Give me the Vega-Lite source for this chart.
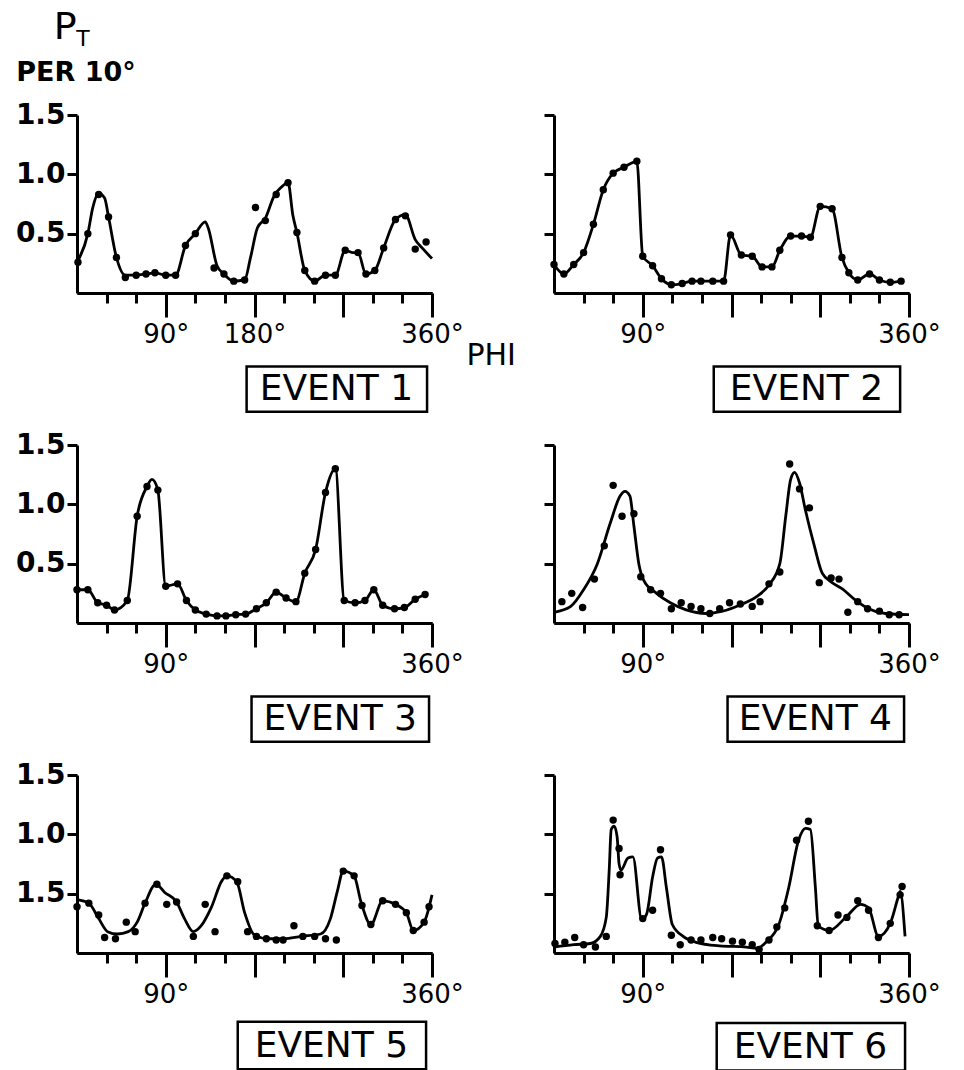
{
  "$schema": "https://vega.github.io/schema/vega-lite/v6.json",
  "background": "white",
  "padding": {"left": 15, "top": 9, "right": 5, "bottom": 5},
  "config": {
    "view": {"stroke": null},
    "font": "DejaVu Sans",
    "axis": {"domainColor": "black", "tickColor": "black", "labelColor": "black", "grid": false, "domainWidth": 3, "tickWidth": 3}
  },
  "datasets": {
    "e1": [{"phi":1,"pt":0.26},{"phi":11,"pt":0.50},{"phi":22,"pt":0.83},{"phi":32,"pt":0.64},{"phi":40,"pt":0.30},{"phi":49,"pt":0.13},{"phi":60,"pt":0.15},{"phi":70,"pt":0.16},{"phi":79,"pt":0.17},{"phi":90,"pt":0.15},{"phi":100,"pt":0.15},{"phi":110,"pt":0.40},{"phi":120,"pt":0.50},{"phi":139,"pt":0.21},{"phi":149,"pt":0.16},{"phi":159,"pt":0.10},{"phi":170,"pt":0.11},{"phi":181,"pt":0.72},{"phi":191,"pt":0.61},{"phi":202,"pt":0.83},{"phi":214,"pt":0.93},{"phi":223,"pt":0.51},{"phi":231,"pt":0.19},{"phi":241,"pt":0.10},{"phi":252,"pt":0.15},{"phi":262,"pt":0.15},{"phi":272,"pt":0.36},{"phi":285,"pt":0.34},{"phi":293,"pt":0.16},{"phi":302,"pt":0.19},{"phi":311,"pt":0.38},{"phi":323,"pt":0.62},{"phi":333,"pt":0.65},{"phi":343,"pt":0.37},{"phi":354,"pt":0.43}],
    "c1": [{"phi":0,"pt":0.26},{"phi":11,"pt":0.50},{"phi":16,"pt":0.72},{"phi":22,"pt":0.84},{"phi":28,"pt":0.80},{"phi":32,"pt":0.64},{"phi":40,"pt":0.30},{"phi":49,"pt":0.15},{"phi":60,"pt":0.15},{"phi":70,"pt":0.16},{"phi":79,"pt":0.17},{"phi":90,"pt":0.15},{"phi":100,"pt":0.15},{"phi":110,"pt":0.40},{"phi":120,"pt":0.50},{"phi":130,"pt":0.60},{"phi":133,"pt":0.55},{"phi":142,"pt":0.23},{"phi":149,"pt":0.16},{"phi":159,"pt":0.10},{"phi":170,"pt":0.11},{"phi":176,"pt":0.30},{"phi":183,"pt":0.55},{"phi":191,"pt":0.63},{"phi":200,"pt":0.82},{"phi":207,"pt":0.89},{"phi":214,"pt":0.93},{"phi":219,"pt":0.65},{"phi":223,"pt":0.51},{"phi":231,"pt":0.19},{"phi":241,"pt":0.10},{"phi":252,"pt":0.15},{"phi":262,"pt":0.15},{"phi":272,"pt":0.36},{"phi":280,"pt":0.34},{"phi":285,"pt":0.34},{"phi":293,"pt":0.16},{"phi":302,"pt":0.19},{"phi":311,"pt":0.38},{"phi":323,"pt":0.62},{"phi":333,"pt":0.66},{"phi":343,"pt":0.45},{"phi":350,"pt":0.38},{"phi":360,"pt":0.29}],
    "e2": [{"phi":0,"pt":0.24},{"phi":10,"pt":0.16},{"phi":20,"pt":0.24},{"phi":30,"pt":0.34},{"phi":40,"pt":0.58},{"phi":50,"pt":0.87},{"phi":60,"pt":1.01},{"phi":71,"pt":1.06},{"phi":84,"pt":1.11},{"phi":90,"pt":0.31},{"phi":100,"pt":0.23},{"phi":109,"pt":0.12},{"phi":119,"pt":0.07},{"phi":130,"pt":0.08},{"phi":140,"pt":0.10},{"phi":149,"pt":0.10},{"phi":161,"pt":0.10},{"phi":172,"pt":0.10},{"phi":179,"pt":0.49},{"phi":190,"pt":0.32},{"phi":201,"pt":0.31},{"phi":211,"pt":0.22},{"phi":221,"pt":0.22},{"phi":229,"pt":0.36},{"phi":240,"pt":0.48},{"phi":251,"pt":0.48},{"phi":260,"pt":0.47},{"phi":270,"pt":0.73},{"phi":282,"pt":0.71},{"phi":292,"pt":0.30},{"phi":299,"pt":0.17},{"phi":308,"pt":0.11},{"phi":320,"pt":0.16},{"phi":330,"pt":0.11},{"phi":341,"pt":0.09},{"phi":352,"pt":0.10}],
    "e3": [{"phi":0,"pt":0.28},{"phi":11,"pt":0.28},{"phi":21,"pt":0.17},{"phi":30,"pt":0.15},{"phi":38,"pt":0.11},{"phi":51,"pt":0.19},{"phi":61,"pt":0.90},{"phi":71,"pt":1.15},{"phi":82,"pt":1.12},{"phi":90,"pt":0.31},{"phi":102,"pt":0.33},{"phi":111,"pt":0.19},{"phi":120,"pt":0.11},{"phi":131,"pt":0.075},{"phi":142,"pt":0.06},{"phi":151,"pt":0.06},{"phi":161,"pt":0.07},{"phi":171,"pt":0.075},{"phi":182,"pt":0.12},{"phi":192,"pt":0.17},{"phi":202,"pt":0.26},{"phi":212,"pt":0.21},{"phi":222,"pt":0.18},{"phi":231,"pt":0.42},{"phi":242,"pt":0.62},{"phi":252,"pt":1.10},{"phi":262,"pt":1.30},{"phi":271,"pt":0.19},{"phi":282,"pt":0.17},{"phi":292,"pt":0.19},{"phi":301,"pt":0.28},{"phi":310,"pt":0.15},{"phi":322,"pt":0.12},{"phi":332,"pt":0.13},{"phi":343,"pt":0.20},{"phi":353,"pt":0.24}],
    "c3": [{"phi":0,"pt":0.28},{"phi":11,"pt":0.28},{"phi":21,"pt":0.17},{"phi":30,"pt":0.15},{"phi":38,"pt":0.11},{"phi":51,"pt":0.19},{"phi":61,"pt":0.90},{"phi":71,"pt":1.15},{"phi":76,"pt":1.21},{"phi":82,"pt":1.12},{"phi":90,"pt":0.31},{"phi":102,"pt":0.33},{"phi":111,"pt":0.19},{"phi":120,"pt":0.11},{"phi":131,"pt":0.075},{"phi":142,"pt":0.06},{"phi":151,"pt":0.06},{"phi":161,"pt":0.07},{"phi":171,"pt":0.075},{"phi":182,"pt":0.12},{"phi":192,"pt":0.17},{"phi":202,"pt":0.26},{"phi":212,"pt":0.21},{"phi":222,"pt":0.18},{"phi":231,"pt":0.42},{"phi":242,"pt":0.62},{"phi":252,"pt":1.10},{"phi":262,"pt":1.30},{"phi":271,"pt":0.19},{"phi":282,"pt":0.17},{"phi":292,"pt":0.19},{"phi":301,"pt":0.28},{"phi":310,"pt":0.15},{"phi":322,"pt":0.12},{"phi":332,"pt":0.13},{"phi":343,"pt":0.20},{"phi":353,"pt":0.24}],
    "e4": [{"phi":8,"pt":0.18},{"phi":18,"pt":0.25},{"phi":29,"pt":0.13},{"phi":41,"pt":0.37},{"phi":51,"pt":0.65},{"phi":60,"pt":1.16},{"phi":69,"pt":0.90},{"phi":81,"pt":0.92},{"phi":88,"pt":0.39},{"phi":98,"pt":0.28},{"phi":108,"pt":0.25},{"phi":119,"pt":0.12},{"phi":129,"pt":0.17},{"phi":139,"pt":0.14},{"phi":149,"pt":0.12},{"phi":158,"pt":0.08},{"phi":168,"pt":0.12},{"phi":178,"pt":0.17},{"phi":189,"pt":0.16},{"phi":201,"pt":0.14},{"phi":209,"pt":0.18},{"phi":218,"pt":0.33},{"phi":229,"pt":0.43},{"phi":239,"pt":1.34},{"phi":249,"pt":1.13},{"phi":259,"pt":0.97},{"phi":269,"pt":0.34},{"phi":281,"pt":0.38},{"phi":289,"pt":0.37},{"phi":298,"pt":0.09},{"phi":308,"pt":0.18},{"phi":318,"pt":0.12},{"phi":330,"pt":0.10},{"phi":340,"pt":0.07},{"phi":350,"pt":0.07}],
    "c4": [{"phi":0,"pt":0.09},{"phi":17,"pt":0.14},{"phi":30,"pt":0.28},{"phi":44,"pt":0.50},{"phi":57,"pt":0.84},{"phi":67,"pt":1.07},{"phi":72,"pt":1.11},{"phi":77,"pt":1.07},{"phi":81,"pt":0.82},{"phi":86,"pt":0.50},{"phi":91,"pt":0.36},{"phi":104,"pt":0.25},{"phi":118,"pt":0.17},{"phi":134,"pt":0.11},{"phi":154,"pt":0.08},{"phi":171,"pt":0.10},{"phi":188,"pt":0.15},{"phi":205,"pt":0.22},{"phi":218,"pt":0.32},{"phi":229,"pt":0.50},{"phi":235,"pt":0.90},{"phi":240,"pt":1.21},{"phi":244,"pt":1.27},{"phi":249,"pt":1.18},{"phi":255,"pt":0.95},{"phi":264,"pt":0.65},{"phi":272,"pt":0.42},{"phi":282,"pt":0.34},{"phi":292,"pt":0.29},{"phi":306,"pt":0.19},{"phi":319,"pt":0.12},{"phi":336,"pt":0.08},{"phi":360,"pt":0.07}],
    "e5": [{"phi":0,"pt":0.39},{"phi":12,"pt":0.42},{"phi":22,"pt":0.32},{"phi":28,"pt":0.13},{"phi":39,"pt":0.12},{"phi":50,"pt":0.26},{"phi":59,"pt":0.18},{"phi":69,"pt":0.42},{"phi":81,"pt":0.58},{"phi":91,"pt":0.41},{"phi":101,"pt":0.43},{"phi":118,"pt":0.14},{"phi":130,"pt":0.41},{"phi":140,"pt":0.18},{"phi":152,"pt":0.65},{"phi":163,"pt":0.60},{"phi":173,"pt":0.18},{"phi":182,"pt":0.14},{"phi":192,"pt":0.12},{"phi":202,"pt":0.11},{"phi":209,"pt":0.11},{"phi":220,"pt":0.23},{"phi":229,"pt":0.14},{"phi":241,"pt":0.14},{"phi":252,"pt":0.12},{"phi":263,"pt":0.11},{"phi":270,"pt":0.69},{"phi":281,"pt":0.65},{"phi":289,"pt":0.40},{"phi":298,"pt":0.24},{"phi":310,"pt":0.44},{"phi":323,"pt":0.41},{"phi":334,"pt":0.34},{"phi":341,"pt":0.19},{"phi":352,"pt":0.26},{"phi":357,"pt":0.39}],
    "c5": [{"phi":0,"pt":0.45},{"phi":12,"pt":0.42},{"phi":22,"pt":0.29},{"phi":31,"pt":0.18},{"phi":41,"pt":0.16},{"phi":52,"pt":0.18},{"phi":61,"pt":0.26},{"phi":69,"pt":0.42},{"phi":80,"pt":0.58},{"phi":89,"pt":0.51},{"phi":101,"pt":0.43},{"phi":109,"pt":0.29},{"phi":118,"pt":0.18},{"phi":126,"pt":0.23},{"phi":136,"pt":0.38},{"phi":147,"pt":0.61},{"phi":152,"pt":0.65},{"phi":162,"pt":0.60},{"phi":170,"pt":0.34},{"phi":180,"pt":0.15},{"phi":194,"pt":0.12},{"phi":210,"pt":0.12},{"phi":227,"pt":0.14},{"phi":247,"pt":0.16},{"phi":257,"pt":0.29},{"phi":264,"pt":0.52},{"phi":270,"pt":0.69},{"phi":281,"pt":0.65},{"phi":288,"pt":0.43},{"phi":298,"pt":0.24},{"phi":310,"pt":0.44},{"phi":323,"pt":0.41},{"phi":334,"pt":0.34},{"phi":341,"pt":0.19},{"phi":352,"pt":0.26},{"phi":360,"pt":0.49}],
    "e6": [{"phi":1,"pt":0.08},{"phi":11,"pt":0.09},{"phi":21,"pt":0.13},{"phi":30,"pt":0.07},{"phi":42,"pt":0.05},{"phi":53,"pt":0.14},{"phi":60,"pt":1.12},{"phi":66,"pt":0.88},{"phi":67,"pt":0.66},{"phi":90,"pt":0.29},{"phi":100,"pt":0.36},{"phi":108,"pt":0.87},{"phi":119,"pt":0.15},{"phi":128,"pt":0.07},{"phi":139,"pt":0.11},{"phi":149,"pt":0.11},{"phi":161,"pt":0.13},{"phi":170,"pt":0.12},{"phi":181,"pt":0.10},{"phi":191,"pt":0.09},{"phi":201,"pt":0.07},{"phi":208,"pt":0.03},{"phi":218,"pt":0.11},{"phi":226,"pt":0.22},{"phi":234,"pt":0.38},{"phi":246,"pt":0.95},{"phi":258,"pt":1.11},{"phi":267,"pt":0.23},{"phi":279,"pt":0.19},{"phi":288,"pt":0.32},{"phi":297,"pt":0.30},{"phi":308,"pt":0.44},{"phi":319,"pt":0.36},{"phi":329,"pt":0.13},{"phi":341,"pt":0.25},{"phi":351,"pt":0.49},{"phi":353,"pt":0.56}],
    "c6": [{"phi":0,"pt":0.05},{"phi":20,"pt":0.07},{"phi":37,"pt":0.08},{"phi":47,"pt":0.14},{"phi":53,"pt":0.30},{"phi":56,"pt":0.70},{"phi":58,"pt":1.04},{"phi":61,"pt":1.07},{"phi":64,"pt":0.98},{"phi":66,"pt":0.75},{"phi":68,"pt":0.70},{"phi":75,"pt":0.80},{"phi":80,"pt":0.81},{"phi":89,"pt":0.28},{"phi":94,"pt":0.33},{"phi":100,"pt":0.64},{"phi":105,"pt":0.80},{"phi":109,"pt":0.81},{"phi":114,"pt":0.55},{"phi":120,"pt":0.24},{"phi":131,"pt":0.14},{"phi":144,"pt":0.09},{"phi":168,"pt":0.06},{"phi":195,"pt":0.05},{"phi":206,"pt":0.04},{"phi":216,"pt":0.10},{"phi":228,"pt":0.24},{"phi":238,"pt":0.55},{"phi":248,"pt":0.95},{"phi":255,"pt":1.05},{"phi":260,"pt":1.04},{"phi":265,"pt":0.56},{"phi":268,"pt":0.23},{"phi":279,"pt":0.19},{"phi":297,"pt":0.31},{"phi":311,"pt":0.41},{"phi":319,"pt":0.38},{"phi":329,"pt":0.14},{"phi":341,"pt":0.25},{"phi":349,"pt":0.47},{"phi":351,"pt":0.52},{"phi":356,"pt":0.14}]
  },
  "columns": 2,
  "bounds": "flush",
  "spacing": {"row": 152, "column": 122},
  "concat": [
    {
      "width": 355, "height": 178,
      "resolve": {"axis": {"x": "independent", "y": "shared"}},
      "layer": [
        {"data": {"name": "c1"}, "mark": {"type": "line", "interpolate": "monotone", "color": "black", "strokeWidth": 2.8},
         "encoding": {
           "x": {"field": "phi", "type": "quantitative", "scale": {"domain": [0, 360], "nice": false},
                 "axis": {"orient": "bottom", "values": [90, 180, 270, 360], "tickSize": 24, "labelFontSize": 26, "labelFont": "DejaVu Sans", "labelPadding": 4, "labelFlush": false, "labelOverlap": false, "labelBound": false, "title": null, "labelExpr": "(datum.value==90||datum.value==180||datum.value==360)?datum.value+'°':''"}},
           "y": {"field": "pt", "type": "quantitative", "scale": {"domain": [0, 1.5], "nice": false},
                 "axis": {"orient": "left", "values": [0.5, 1, 1.5], "tickSize": 10, "labelFontSize": 28, "labelFont": "DejaVu Sans", "labelFontWeight": "bold", "labelPadding": 2, "title": null, "labelExpr": "format(datum.value,'.1f')"}}}},
        {"data": {"name": "e1"}, "mark": {"type": "circle", "color": "black", "size": 55, "opacity": 1},
         "encoding": {
           "x": {"field": "phi", "type": "quantitative", "scale": {"domain": [0, 360], "nice": false},
                 "axis": {"orient": "bottom", "values": [30, 60, 120, 150, 210, 240, 300, 330], "tickSize": 10, "labels": false, "title": null}},
           "y": {"field": "pt", "type": "quantitative", "scale": {"domain": [0, 1.5], "nice": false}}}},
        {"data": {"values": [{"label": "EVENT 1"}]}, "mark": {"type": "rect", "fillOpacity": 0, "stroke": "black", "strokeWidth": 2.5},
         "encoding": {"x": {"datum": 172, "type": "quantitative", "scale": {"domain": [0, 360], "nice": false}, "axis": null}, "x2": {"datum": 355},
                      "y": {"datum": -0.62, "type": "quantitative", "scale": {"domain": [0, 1.5], "nice": false}}, "y2": {"datum": -1.0}}},
        {"data": {"values": [{"label": "EVENT 1"}]}, "mark": {"type": "text", "fontSize": 36, "font": "DejaVu Sans", "color": "black"},
         "encoding": {"x": {"datum": 263, "type": "quantitative", "scale": {"domain": [0, 360], "nice": false}, "axis": null},
                      "y": {"datum": -0.81, "type": "quantitative", "scale": {"domain": [0, 1.5], "nice": false}}, "text": {"field": "label"}}},
        {"data": {"values": [{"label": "PHI"}]}, "mark": {"type": "text", "fontSize": 30, "font": "DejaVu Sans", "color": "black"},
         "encoding": {"x": {"datum": 420, "type": "quantitative", "scale": {"domain": [0, 360], "nice": false}, "axis": null},
                      "y": {"datum": -0.53, "type": "quantitative", "scale": {"domain": [0, 1.5], "nice": false}}, "text": {"field": "label"}}},
        {"data": {"values": [{"label": "P"}]}, "mark": {"type": "text", "fontSize": 38, "font": "DejaVu Sans", "color": "black"},
         "encoding": {"x": {"datum": -12, "type": "quantitative", "scale": {"domain": [0, 360], "nice": false}, "axis": null},
                      "y": {"datum": 2.23, "type": "quantitative", "scale": {"domain": [0, 1.5], "nice": false}}, "text": {"field": "label"}}},
        {"data": {"values": [{"label": "T"}]}, "mark": {"type": "text", "fontSize": 22, "font": "DejaVu Sans", "color": "black"},
         "encoding": {"x": {"datum": 6, "type": "quantitative", "scale": {"domain": [0, 360], "nice": false}, "axis": null},
                      "y": {"datum": 2.14, "type": "quantitative", "scale": {"domain": [0, 1.5], "nice": false}}, "text": {"field": "label"}}},
        {"data": {"values": [{"label": "PER 10°"}]}, "mark": {"type": "text", "fontSize": 27, "font": "DejaVu Sans", "fontWeight": "bold", "color": "black"},
         "encoding": {"x": {"datum": -1, "type": "quantitative", "scale": {"domain": [0, 360], "nice": false}, "axis": null},
                      "y": {"datum": 1.85, "type": "quantitative", "scale": {"domain": [0, 1.5], "nice": false}}, "text": {"field": "label"}}}
      ]
    },
    {
      "width": 355, "height": 178,
      "resolve": {"axis": {"x": "independent", "y": "shared"}},
      "layer": [
        {"data": {"name": "e2"}, "mark": {"type": "line", "interpolate": "monotone", "color": "black", "strokeWidth": 2.8},
         "encoding": {
           "x": {"field": "phi", "type": "quantitative", "scale": {"domain": [0, 360], "nice": false},
                 "axis": {"orient": "bottom", "values": [90, 180, 270, 360], "tickSize": 24, "labelFontSize": 26, "labelFont": "DejaVu Sans", "labelPadding": 4, "labelFlush": false, "labelOverlap": false, "labelBound": false, "title": null, "labelExpr": "(datum.value==90||datum.value==360)?datum.value+'°':''"}},
           "y": {"field": "pt", "type": "quantitative", "scale": {"domain": [0, 1.5], "nice": false},
                 "axis": {"orient": "left", "values": [0.5, 1, 1.5], "tickSize": 10, "labels": false, "title": null}}}},
        {"data": {"name": "e2"}, "mark": {"type": "circle", "color": "black", "size": 55, "opacity": 1},
         "encoding": {
           "x": {"field": "phi", "type": "quantitative", "scale": {"domain": [0, 360], "nice": false},
                 "axis": {"orient": "bottom", "values": [30, 60, 120, 150, 210, 240, 300, 330], "tickSize": 10, "labels": false, "title": null}},
           "y": {"field": "pt", "type": "quantitative", "scale": {"domain": [0, 1.5], "nice": false}}}},
        {"data": {"values": [{"label": "EVENT 2"}]}, "mark": {"type": "rect", "fillOpacity": 0, "stroke": "black", "strokeWidth": 2.5},
         "encoding": {"x": {"datum": 162, "type": "quantitative", "scale": {"domain": [0, 360], "nice": false}, "axis": null}, "x2": {"datum": 351},
                      "y": {"datum": -0.62, "type": "quantitative", "scale": {"domain": [0, 1.5], "nice": false}}, "y2": {"datum": -1.0}}},
        {"data": {"values": [{"label": "EVENT 2"}]}, "mark": {"type": "text", "fontSize": 36, "font": "DejaVu Sans", "color": "black"},
         "encoding": {"x": {"datum": 256, "type": "quantitative", "scale": {"domain": [0, 360], "nice": false}, "axis": null},
                      "y": {"datum": -0.81, "type": "quantitative", "scale": {"domain": [0, 1.5], "nice": false}}, "text": {"field": "label"}}}
      ]
    },
    {
      "width": 355, "height": 178,
      "resolve": {"axis": {"x": "independent", "y": "shared"}},
      "layer": [
        {"data": {"name": "c3"}, "mark": {"type": "line", "interpolate": "monotone", "color": "black", "strokeWidth": 2.8},
         "encoding": {
           "x": {"field": "phi", "type": "quantitative", "scale": {"domain": [0, 360], "nice": false},
                 "axis": {"orient": "bottom", "values": [90, 180, 270, 360], "tickSize": 24, "labelFontSize": 26, "labelFont": "DejaVu Sans", "labelPadding": 4, "labelFlush": false, "labelOverlap": false, "labelBound": false, "title": null, "labelExpr": "(datum.value==90||datum.value==360)?datum.value+'°':''"}},
           "y": {"field": "pt", "type": "quantitative", "scale": {"domain": [0, 1.5], "nice": false},
                 "axis": {"orient": "left", "values": [0.5, 1, 1.5], "tickSize": 10, "labelFontSize": 28, "labelFont": "DejaVu Sans", "labelFontWeight": "bold", "labelPadding": 2, "title": null, "labelExpr": "format(datum.value,'.1f')"}}}},
        {"data": {"name": "e3"}, "mark": {"type": "circle", "color": "black", "size": 55, "opacity": 1},
         "encoding": {
           "x": {"field": "phi", "type": "quantitative", "scale": {"domain": [0, 360], "nice": false},
                 "axis": {"orient": "bottom", "values": [30, 60, 120, 150, 210, 240, 300, 330], "tickSize": 10, "labels": false, "title": null}},
           "y": {"field": "pt", "type": "quantitative", "scale": {"domain": [0, 1.5], "nice": false}}}},
        {"data": {"values": [{"label": "EVENT 3"}]}, "mark": {"type": "rect", "fillOpacity": 0, "stroke": "black", "strokeWidth": 2.5},
         "encoding": {"x": {"datum": 177, "type": "quantitative", "scale": {"domain": [0, 360], "nice": false}, "axis": null}, "x2": {"datum": 357},
                      "y": {"datum": -0.62, "type": "quantitative", "scale": {"domain": [0, 1.5], "nice": false}}, "y2": {"datum": -1.0}}},
        {"data": {"values": [{"label": "EVENT 3"}]}, "mark": {"type": "text", "fontSize": 36, "font": "DejaVu Sans", "color": "black"},
         "encoding": {"x": {"datum": 267, "type": "quantitative", "scale": {"domain": [0, 360], "nice": false}, "axis": null},
                      "y": {"datum": -0.81, "type": "quantitative", "scale": {"domain": [0, 1.5], "nice": false}}, "text": {"field": "label"}}}
      ]
    },
    {
      "width": 355, "height": 178,
      "resolve": {"axis": {"x": "independent", "y": "shared"}},
      "layer": [
        {"data": {"name": "c4"}, "mark": {"type": "line", "interpolate": "monotone", "color": "black", "strokeWidth": 2.8},
         "encoding": {
           "x": {"field": "phi", "type": "quantitative", "scale": {"domain": [0, 360], "nice": false},
                 "axis": {"orient": "bottom", "values": [90, 180, 270, 360], "tickSize": 24, "labelFontSize": 26, "labelFont": "DejaVu Sans", "labelPadding": 4, "labelFlush": false, "labelOverlap": false, "labelBound": false, "title": null, "labelExpr": "(datum.value==90||datum.value==360)?datum.value+'°':''"}},
           "y": {"field": "pt", "type": "quantitative", "scale": {"domain": [0, 1.5], "nice": false},
                 "axis": {"orient": "left", "values": [0.5, 1, 1.5], "tickSize": 10, "labels": false, "title": null}}}},
        {"data": {"name": "e4"}, "mark": {"type": "circle", "color": "black", "size": 55, "opacity": 1},
         "encoding": {
           "x": {"field": "phi", "type": "quantitative", "scale": {"domain": [0, 360], "nice": false},
                 "axis": {"orient": "bottom", "values": [30, 60, 120, 150, 210, 240, 300, 330], "tickSize": 10, "labels": false, "title": null}},
           "y": {"field": "pt", "type": "quantitative", "scale": {"domain": [0, 1.5], "nice": false}}}},
        {"data": {"values": [{"label": "EVENT 4"}]}, "mark": {"type": "rect", "fillOpacity": 0, "stroke": "black", "strokeWidth": 2.5},
         "encoding": {"x": {"datum": 176, "type": "quantitative", "scale": {"domain": [0, 360], "nice": false}, "axis": null}, "x2": {"datum": 355},
                      "y": {"datum": -0.62, "type": "quantitative", "scale": {"domain": [0, 1.5], "nice": false}}, "y2": {"datum": -1.0}}},
        {"data": {"values": [{"label": "EVENT 4"}]}, "mark": {"type": "text", "fontSize": 36, "font": "DejaVu Sans", "color": "black"},
         "encoding": {"x": {"datum": 265, "type": "quantitative", "scale": {"domain": [0, 360], "nice": false}, "axis": null},
                      "y": {"datum": -0.81, "type": "quantitative", "scale": {"domain": [0, 1.5], "nice": false}}, "text": {"field": "label"}}}
      ]
    },
    {
      "width": 355, "height": 178,
      "resolve": {"axis": {"x": "independent", "y": "shared"}},
      "layer": [
        {"data": {"name": "c5"}, "mark": {"type": "line", "interpolate": "monotone", "color": "black", "strokeWidth": 2.8},
         "encoding": {
           "x": {"field": "phi", "type": "quantitative", "scale": {"domain": [0, 360], "nice": false},
                 "axis": {"orient": "bottom", "values": [90, 180, 270, 360], "tickSize": 24, "labelFontSize": 26, "labelFont": "DejaVu Sans", "labelPadding": 4, "labelFlush": false, "labelOverlap": false, "labelBound": false, "title": null, "labelExpr": "(datum.value==90||datum.value==360)?datum.value+'°':''"}},
           "y": {"field": "pt", "type": "quantitative", "scale": {"domain": [0, 1.5], "nice": false},
                 "axis": {"orient": "left", "values": [0.5, 1, 1.5], "tickSize": 10, "labelFontSize": 28, "labelFont": "DejaVu Sans", "labelFontWeight": "bold", "labelPadding": 2, "title": null, "labelExpr": "datum.value==0.5?'1.5':format(datum.value,'.1f')"}}}},
        {"data": {"name": "e5"}, "mark": {"type": "circle", "color": "black", "size": 55, "opacity": 1},
         "encoding": {
           "x": {"field": "phi", "type": "quantitative", "scale": {"domain": [0, 360], "nice": false},
                 "axis": {"orient": "bottom", "values": [30, 60, 120, 150, 210, 240, 300, 330], "tickSize": 10, "labels": false, "title": null}},
           "y": {"field": "pt", "type": "quantitative", "scale": {"domain": [0, 1.5], "nice": false}}}},
        {"data": {"values": [{"label": "EVENT 5"}]}, "mark": {"type": "rect", "fillOpacity": 0, "stroke": "black", "strokeWidth": 2.5},
         "encoding": {"x": {"datum": 163, "type": "quantitative", "scale": {"domain": [0, 360], "nice": false}, "axis": null}, "x2": {"datum": 354},
                      "y": {"datum": -0.58, "type": "quantitative", "scale": {"domain": [0, 1.5], "nice": false}}, "y2": {"datum": -0.98}}},
        {"data": {"values": [{"label": "EVENT 5"}]}, "mark": {"type": "text", "fontSize": 36, "font": "DejaVu Sans", "color": "black"},
         "encoding": {"x": {"datum": 258, "type": "quantitative", "scale": {"domain": [0, 360], "nice": false}, "axis": null},
                      "y": {"datum": -0.78, "type": "quantitative", "scale": {"domain": [0, 1.5], "nice": false}}, "text": {"field": "label"}}}
      ]
    },
    {
      "width": 355, "height": 178,
      "resolve": {"axis": {"x": "independent", "y": "shared"}},
      "layer": [
        {"data": {"name": "c6"}, "mark": {"type": "line", "interpolate": "monotone", "color": "black", "strokeWidth": 2.8},
         "encoding": {
           "x": {"field": "phi", "type": "quantitative", "scale": {"domain": [0, 360], "nice": false},
                 "axis": {"orient": "bottom", "values": [90, 180, 270, 360], "tickSize": 24, "labelFontSize": 26, "labelFont": "DejaVu Sans", "labelPadding": 4, "labelFlush": false, "labelOverlap": false, "labelBound": false, "title": null, "labelExpr": "(datum.value==90||datum.value==360)?datum.value+'°':''"}},
           "y": {"field": "pt", "type": "quantitative", "scale": {"domain": [0, 1.5], "nice": false},
                 "axis": {"orient": "left", "values": [0.5, 1, 1.5], "tickSize": 10, "labels": false, "title": null}}}},
        {"data": {"name": "e6"}, "mark": {"type": "circle", "color": "black", "size": 55, "opacity": 1},
         "encoding": {
           "x": {"field": "phi", "type": "quantitative", "scale": {"domain": [0, 360], "nice": false},
                 "axis": {"orient": "bottom", "values": [30, 60, 120, 150, 210, 240, 300, 330], "tickSize": 10, "labels": false, "title": null}},
           "y": {"field": "pt", "type": "quantitative", "scale": {"domain": [0, 1.5], "nice": false}}}},
        {"data": {"values": [{"label": "EVENT 6"}]}, "mark": {"type": "rect", "fillOpacity": 0, "stroke": "black", "strokeWidth": 2.5},
         "encoding": {"x": {"datum": 165, "type": "quantitative", "scale": {"domain": [0, 360], "nice": false}, "axis": null}, "x2": {"datum": 356},
                      "y": {"datum": -0.59, "type": "quantitative", "scale": {"domain": [0, 1.5], "nice": false}}, "y2": {"datum": -0.99}}},
        {"data": {"values": [{"label": "EVENT 6"}]}, "mark": {"type": "text", "fontSize": 36, "font": "DejaVu Sans", "color": "black"},
         "encoding": {"x": {"datum": 260, "type": "quantitative", "scale": {"domain": [0, 360], "nice": false}, "axis": null},
                      "y": {"datum": -0.79, "type": "quantitative", "scale": {"domain": [0, 1.5], "nice": false}}, "text": {"field": "label"}}}
      ]
    }
  ]
}
